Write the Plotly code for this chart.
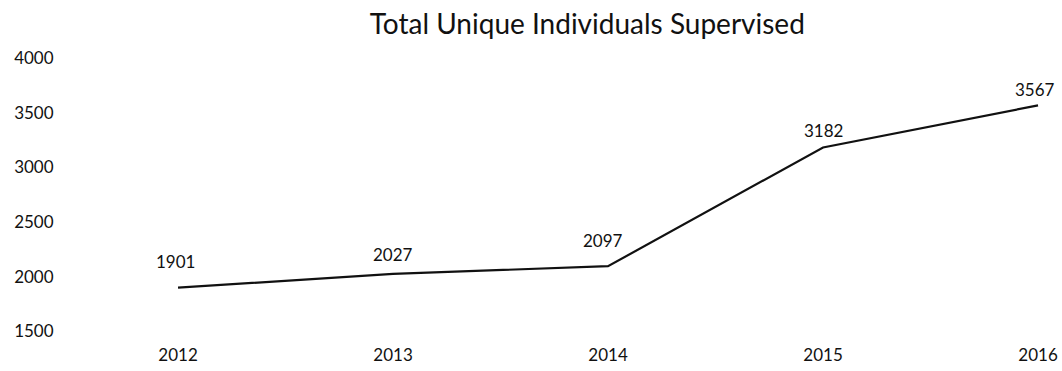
import plotly.graph_objects as go

years = [2012, 2013, 2014, 2015, 2016]
values = [1901, 2027, 2097, 3182, 3567]
labels = [str(v) for v in values]
label_dy = [26, 19, 26, 17, 16]
label_dx = [-3, 0, -5, 0, -3]
y_ticks = [1500, 2000, 2500, 3000, 3500, 4000]

FONT = "Lato, 'Open Sans', sans-serif"

fig = go.Figure()
fig.add_trace(go.Scatter(
    x=years, y=values, mode="lines",
    line=dict(color="#111", width=2.2),
    showlegend=False, hoverinfo="skip",
))

for x, v, t, dy, dx in zip(years, values, labels, label_dy, label_dx):
    fig.add_annotation(x=x, y=v, text=t, showarrow=False,
                       yshift=dy, xshift=dx,
                       font=dict(family=FONT, size=17, color="#111"))

fig.update_layout(
    width=1062, height=371,
    margin=dict(l=60, r=10, t=47, b=34),
    paper_bgcolor="white", plot_bgcolor="white",
    title=dict(text="Total Unique Individuals Supervised",
               x=0.553, xanchor="center", y=0.935, yanchor="middle",
               font=dict(family=FONT, size=28, color="#111")),
    font=dict(family=FONT, size=17, color="#111"),
    xaxis=dict(range=[2011.451, 2016.065], tickvals=years, automargin=False,
               showgrid=False, zeroline=False, showline=False,
               ticks="outside", ticklen=3, tickcolor="white",
               tickfont=dict(family=FONT, size=17, color="#111")),
    yaxis=dict(range=[1450, 4100], tickvals=y_ticks, automargin=False,
               showgrid=False, zeroline=False, showline=False,
               ticks="outside", ticklen=2, tickcolor="white",
               tickfont=dict(family=FONT, size=17, color="#111")),
)

fig.write_html("out.html")
